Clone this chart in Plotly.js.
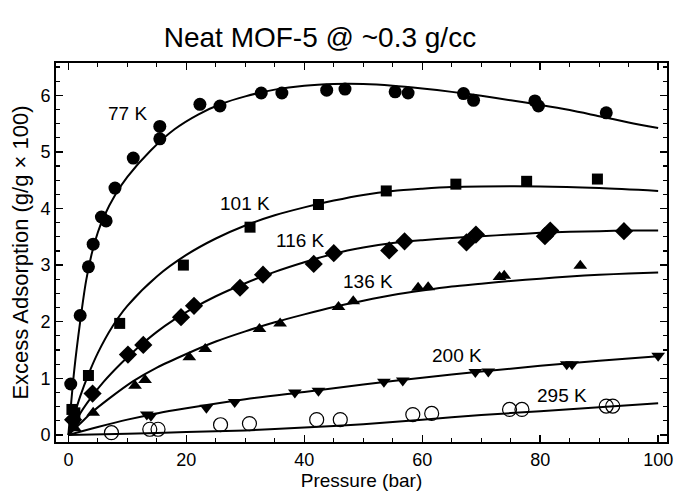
<!DOCTYPE html>
<html>
<head>
<meta charset="utf-8">
<script src="https://cdn.plot.ly/plotly-3.0.1.min.js"></script>
<style>html,body{margin:0;padding:0;background:#fff;}#chart{width:675px;height:496px;}</style>
</head>
<body>
<div id="chart"></div>
<script>
// ---- measured points ----
const p77x  = [0.4, 2.0, 3.4, 4.2, 5.6, 6.4, 7.9, 11.0, 15.5, 15.5, 22.3, 25.7, 32.7, 36.2, 43.8, 46.9, 55.4, 57.6, 67.0, 68.7, 79.1, 79.7, 91.2];
const p77y  = [0.90, 2.11, 2.97, 3.37, 3.85, 3.78, 4.36, 4.89, 5.23, 5.45, 5.84, 5.81, 6.04, 6.04, 6.09, 6.11, 6.06, 6.04, 6.03, 5.91, 5.90, 5.81, 5.69];
const p101x = [0.6, 1.1, 3.4, 8.7, 19.5, 30.8, 42.4, 53.9, 65.7, 77.7, 89.7];
const p101y = [0.45, 0.39, 1.05, 1.97, 3.00, 3.67, 4.07, 4.31, 4.43, 4.48, 4.52];
const p116x = [0.8, 4.1, 10.1, 12.7, 19.1, 21.3, 29.1, 33.0, 41.6, 45.0, 54.4, 57.0, 67.5, 69.1, 80.8, 81.7, 94.2];
const p116y = [0.27, 0.73, 1.42, 1.59, 2.08, 2.28, 2.60, 2.83, 3.02, 3.21, 3.26, 3.42, 3.40, 3.54, 3.51, 3.61, 3.60];
const p136x = [1.1, 4.2, 11.3, 13.0, 20.5, 23.2, 32.4, 35.9, 45.8, 48.3, 59.3, 61.0, 73.1, 73.9, 86.8];
const p136y = [0.12, 0.39, 0.87, 0.97, 1.37, 1.52, 1.87, 1.97, 2.26, 2.36, 2.60, 2.61, 2.79, 2.81, 2.99];
const p200x = [0.9, 13.3, 14.0, 23.4, 28.2, 38.4, 42.4, 53.5, 56.7, 69.0, 71.2, 84.5, 85.4, 100.0];
const p200y = [0.18, 0.36, 0.34, 0.48, 0.58, 0.75, 0.78, 0.94, 0.96, 1.11, 1.12, 1.25, 1.25, 1.40];
const p295x = [7.3, 13.8, 15.2, 25.8, 30.7, 42.1, 46.1, 58.4, 61.6, 74.8, 76.9, 91.2, 92.3];
const p295y = [0.04, 0.10, 0.10, 0.18, 0.20, 0.27, 0.27, 0.36, 0.38, 0.45, 0.45, 0.51, 0.51];

// ---- fit curves ----
const c77x  = [0, 0.5, 1, 2, 3, 4, 5, 6, 8, 10, 14, 18, 22, 26, 30, 35, 40, 45, 50, 55, 60, 65, 70, 75, 80, 85, 90, 95, 100];
const c77y  = [0, 0.6, 1.15, 2.0, 2.72, 3.22, 3.58, 3.85, 4.25, 4.56, 5.03, 5.40, 5.66, 5.85, 5.98, 6.1, 6.17, 6.2, 6.2, 6.17, 6.12, 6.06, 5.99, 5.91, 5.83, 5.74, 5.63, 5.52, 5.42];
const c101x = [0, 1, 2, 3.4, 5, 7.5, 10, 15, 20, 25, 30, 35, 40, 45, 50, 55, 60, 65, 70, 80, 90, 100];
const c101y = [0, 0.35, 0.68, 1.07, 1.45, 1.92, 2.28, 2.8, 3.18, 3.47, 3.7, 3.88, 4.02, 4.14, 4.24, 4.31, 4.35, 4.38, 4.39, 4.39, 4.36, 4.31];
const c116x = [0, 2, 4, 6, 9, 12, 15, 18, 21, 25, 30, 35, 40, 45, 50, 55, 60, 65, 70, 75, 80, 85, 90, 95, 100];
const c116y = [0, 0.38, 0.68, 0.94, 1.27, 1.56, 1.82, 2.04, 2.23, 2.45, 2.68, 2.88, 3.05, 3.2, 3.31, 3.39, 3.44, 3.48, 3.51, 3.54, 3.57, 3.59, 3.6, 3.61, 3.61];
const c136x = [0, 2, 4, 7, 11, 15, 20, 25, 30, 35, 40, 45, 50, 55, 60, 65, 70, 75, 80, 85, 90, 95, 100];
const c136y = [0, 0.2, 0.4, 0.65, 0.95, 1.19, 1.43, 1.65, 1.83, 1.99, 2.13, 2.26, 2.37, 2.47, 2.55, 2.62, 2.67, 2.72, 2.76, 2.8, 2.83, 2.85, 2.87];
const c200x = [0, 5, 10, 15, 20, 30, 40, 50, 60, 70, 80, 90, 100];
const c200y = [0, 0.14, 0.27, 0.38, 0.47, 0.63, 0.76, 0.89, 1.01, 1.12, 1.22, 1.31, 1.39];
const c295x = [0, 10, 20, 30, 40, 50, 60, 70, 80, 90, 100];
const c295y = [0, 0.02, 0.05, 0.08, 0.13, 0.19, 0.27, 0.35, 0.42, 0.49, 0.56];

const labels = ["77 K", "101 K", "116 K", "136 K", "200 K", "295 K"];
const labelX = [10.1, 29.9, 39.3, 50.8, 65.9, 83.7];
const labelY = [5.68, 4.09, 3.44, 2.71, 1.40, 0.70];

const xTicks = [0, 20, 40, 60, 80, 100];
const yTicks = [0, 1, 2, 3, 4, 5, 6];

const lineStyle = {color: "#000", width: 2, shape: "spline", smoothing: 0.8};
function curve(x, y) {
  return {x: x, y: y, mode: "lines", line: lineStyle, hoverinfo: "skip", showlegend: false};
}
function pts(x, y, symbol, size, lw) {
  return {x: x, y: y, mode: "markers", showlegend: false,
    marker: {symbol: symbol, size: size, color: "#000",
      line: {color: "#000", width: lw || 0}}};
}

const data = [
  curve(c77x, c77y), curve(c101x, c101y), curve(c116x, c116y),
  curve(c136x, c136y), curve(c200x, c200y), curve(c295x, c295y),
  pts(p77x, p77y, "circle", 13),
  pts(p101x, p101y, "square", 11),
  pts(p116x, p116y, "diamond", 14),
  pts(p136x, p136y, "triangle-up", 12),
  pts(p200x, p200y, "triangle-down", 12),
  pts(p295x, p295y, "circle-open", 14, 1.2)
];

const font = "'Liberation Sans', Arial, sans-serif";
const annotations = labels.map((t, i) => ({
  x: labelX[i], y: labelY[i], xref: "x", yref: "y", text: t, showarrow: false,
  font: {family: font, size: 19, color: "#000"}
}));

const axisCommon = {
  showgrid: false, zeroline: false, showline: true, linecolor: "#000", linewidth: 2,
  mirror: "ticks", ticks: "inside", ticklen: 7, tickwidth: 1.5, tickcolor: "#000",
  tickfont: {family: font, size: 18, color: "#000"}
};

const layout = {
  width: 675, height: 496,
  margin: {l: 56, r: 8, t: 63, b: 54},
  paper_bgcolor: "#fff", plot_bgcolor: "#fff",
  title: {text: "Neat MOF-5 @ ~0.3 g/cc", x: 0.474, xanchor: "center", y: 0.925, yanchor: "middle",
    font: {family: "'Liberation Sans Narrow', 'Liberation Sans', Arial, sans-serif", size: 28, color: "#000"}},
  xaxis: Object.assign({}, axisCommon, {
    range: [-2.1, 101.5], tickvals: xTicks, ticktext: xTicks.map(String),
    minor: {dtick: 5, tick0: 0, ticks: "inside", ticklen: 4, tickwidth: 1.2, tickcolor: "#000"},
    title: {text: "Pressure (bar)", standoff: 4, font: {family: font, size: 19, color: "#000"}}
  }),
  yaxis: Object.assign({}, axisCommon, {
    range: [-0.125, 6.57], tickvals: yTicks, ticktext: yTicks.map(String),
    minor: {dtick: 0.25, tick0: 0, ticks: "inside", ticklen: 4, tickwidth: 1.2, tickcolor: "#000"},
    title: {text: "Excess Adsorption (g/g × 100)", standoff: 6, font: {family: font, size: 22, color: "#000"}}
  }),
  annotations: annotations
};

Plotly.newPlot("chart", data, layout, {displayModeBar: false, staticPlot: true});
</script>
</body>
</html>
